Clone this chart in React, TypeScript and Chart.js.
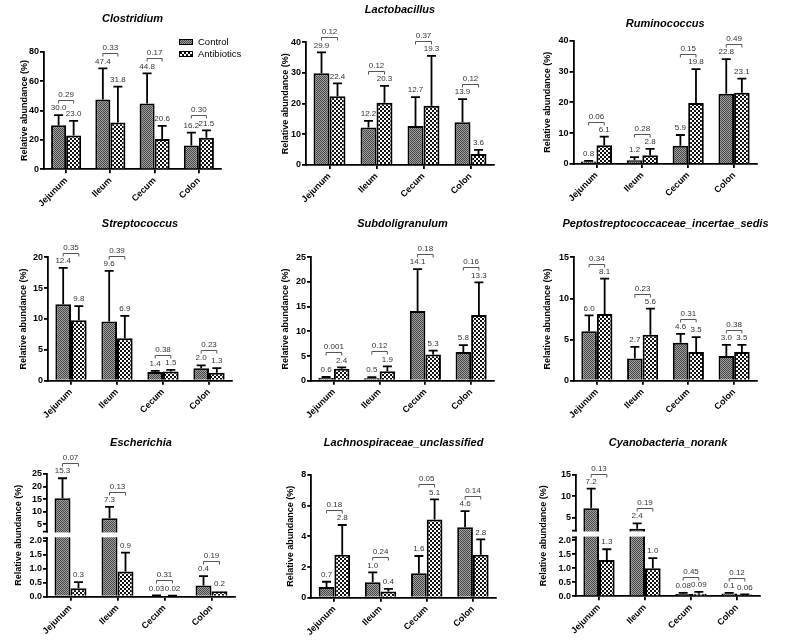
import React, { useEffect, useRef } from 'react';
import { Chart, LinearScale, registerables } from 'chart.js';

Chart.register(...registerables);

const FONT = '"Liberation Sans", Arial, Helvetica, sans-serif';
const SITES = ['Jejunum', 'Ileum', 'Cecum', 'Colon'];
const SERIES = ['Control', 'Antibiotics'];

// Clostridium
const CLOS_CTRL = [30.0, 47.4, 44.8, 16.2];
const CLOS_CTRL_SD = [6.9, 21.3, 20.5, 8.7];
const CLOS_AB = [23.0, 31.8, 20.6, 21.5];
const CLOS_AB_SD = [10.0, 24.4, 8.9, 5.0];
const CLOS_P = ['0.29', '0.33', '0.17', '0.30'];

// Lactobacillus
const LACT_CTRL = [29.9, 12.2, 12.7, 13.9];
const LACT_CTRL_SD = [6.8, 2.2, 9.4, 7.6];
const LACT_AB = [22.4, 20.3, 19.3, 3.6];
const LACT_AB_SD = [4.2, 5.5, 16.3, 1.3];
const LACT_P = ['0.12', '0.12', '0.37', '0.12'];

// Ruminococcus
const RUMI_CTRL = [0.8, 1.2, 5.9, 22.8];
const RUMI_CTRL_SD = [0.2, 1.0, 3.5, 11.2];
const RUMI_AB = [6.1, 2.8, 19.8, 23.1];
const RUMI_AB_SD = [2.8, 2.1, 11.0, 4.6];
const RUMI_P = ['0.06', '0.28', '0.15', '0.49'];

// Streptococcus
const STRE_CTRL = [12.4, 9.6, 1.4, 2.0];
const STRE_CTRL_SD = [5.9, 8.2, 0.2, 0.5];
const STRE_AB = [9.8, 6.9, 1.5, 1.3];
const STRE_AB_SD = [2.3, 3.6, 0.25, 0.75];
const STRE_P = ['0.35', '0.39', '0.38', '0.23'];

// Subdoligranulum
const SUBD_CTRL = [0.6, 0.5, 14.1, 5.8];
const SUBD_CTRL_SD = [0.15, 0.2, 8.5, 1.4];
const SUBD_AB = [2.4, 1.9, 5.3, 13.3];
const SUBD_AB_SD = [0.3, 1.0, 0.8, 6.6];
const SUBD_P = ['0.001', '0.12', '0.18', '0.16'];

// Peptostreptococcaceae_incertae_sedis
const PEPT_CTRL = [6.0, 2.7, 4.6, 3.0];
const PEPT_CTRL_SD = [1.95, 1.4, 1.1, 1.35];
const PEPT_AB = [8.1, 5.6, 3.5, 3.5];
const PEPT_AB_SD = [4.3, 3.15, 1.8, 0.85];
const PEPT_P = ['0.34', '0.23', '0.31', '0.38'];

// Escherichia
const ESCH_CTRL = [15.3, 7.3, 0.03, 0.4];
const ESCH_CTRL_SD = [8.0, 4.6, 0.02, 0.34];
const ESCH_AB = [0.3, 0.9, 0.02, 0.2];
const ESCH_AB_SD = [0.22, 0.68, 0.02, 0.0];
const ESCH_P = ['0.07', '0.13', '0.31', '0.19'];
const ESCH_TICKS = [0, 0.5, 1, 1.5, 2, 5, 10, 15, 20, 25];

// Lachnospiraceae_unclassified
const LACH_CTRL = [0.7, 1.0, 1.6, 4.6];
const LACH_CTRL_SD = [0.34, 0.65, 1.12, 1.05];
const LACH_AB = [2.8, 0.4, 5.1, 2.8];
const LACH_AB_SD = [1.94, 0.17, 1.31, 1.0];
const LACH_P = ['0.18', '0.24', '0.05', '0.14'];

// Cyanobacteria_norank
const CYAN_CTRL = [7.2, 2.4, 0.08, 0.1];
const CYAN_CTRL_SD = [4.6, 1.3, 0.04, 0.02];
const CYAN_AB = [1.3, 1.0, 0.09, 0.06];
const CYAN_AB_SD = [0.38, 0.36, 0.07, 0.01];
const CYAN_P = ['0.13', '0.19', '0.45', '0.12'];
const CYAN_TICKS = [0, 0.5, 1, 1.5, 2, 5, 10, 15];

type Brk = { low: number; high: number; lowFrac: number; upStart: number };

function makeBrokenScale(id: string, brk: Brk, tickValues: number[]) {
  const Base: any = LinearScale;
  class BrokenScale extends Base {
    static id = id;
    static defaults = {};
    buildTicks() {
      return tickValues.map((v) => ({ value: v }));
    }
    getPixelForValue(v: number) {
      const self: any = this;
      const H = self.bottom - self.top;
      if (v <= brk.low) return self.bottom - (v / brk.low) * brk.lowFrac * H;
      return self.bottom - (brk.upStart + ((v - brk.high) / (self.max - brk.high)) * (1 - brk.upStart)) * H;
    }
    getValueForPixel(px: number) {
      const self: any = this;
      const H = self.bottom - self.top;
      const f = (self.bottom - px) / H;
      if (f <= brk.lowFrac) return (f / brk.lowFrac) * brk.low;
      return brk.high + ((f - brk.upStart) / (1 - brk.upStart)) * (self.max - brk.high);
    }
  }
  return BrokenScale;
}

const ESCH_BRK: Brk = { low: 2.1, high: 2, lowFrac: 0.477, upStart: 0.531 };
const CYAN_BRK: Brk = { low: 2.1, high: 2, lowFrac: 0.485, upStart: 0.542 };
Chart.register(
  makeBrokenScale('brokenEsch', ESCH_BRK, ESCH_TICKS) as any,
  makeBrokenScale('brokenCyan', CYAN_BRK, CYAN_TICKS) as any
);

type Panel = {
  title: string;
  ctrl: number[];
  ctrlSd: number[];
  ab: number[];
  abSd: number[];
  p: string[];
  yMax: number;
  yStep?: number;
  brk?: Brk;
  scaleType?: string;
  cell: [number, number, number, number];
  area: { left: number; top: number; right: number; bottom: number };
  titleY: number;
  yTitleX: number;
  legend?: boolean;
};

const PANELS: Panel[] = [
  {
    title: 'Clostridium', ctrl: CLOS_CTRL, ctrlSd: CLOS_CTRL_SD, ab: CLOS_AB, abSd: CLOS_AB_SD, p: CLOS_P,
    yMax: 80, yStep: 20, cell: [0, 0, 262, 210], area: { left: 44, top: 51.7, right: 221, bottom: 169.3 },
    titleY: 19, yTitleX: 25, legend: true,
  },
  {
    title: 'Lactobacillus', ctrl: LACT_CTRL, ctrlSd: LACT_CTRL_SD, ab: LACT_AB, abSd: LACT_AB_SD, p: LACT_P,
    yMax: 40, yStep: 10, cell: [262, 0, 262, 210], area: { left: 306, top: 42.3, right: 494, bottom: 165 },
    titleY: 9.5, yTitleX: 286,
  },
  {
    title: 'Ruminococcus', ctrl: RUMI_CTRL, ctrlSd: RUMI_CTRL_SD, ab: RUMI_AB, abSd: RUMI_AB_SD, p: RUMI_P,
    yMax: 40, yStep: 10, cell: [524, 0, 262, 210], area: { left: 573.5, top: 40.7, right: 757, bottom: 164 },
    titleY: 24, yTitleX: 548,
  },
  {
    title: 'Streptococcus', ctrl: STRE_CTRL, ctrlSd: STRE_CTRL_SD, ab: STRE_AB, abSd: STRE_AB_SD, p: STRE_P,
    yMax: 20, yStep: 5, cell: [0, 210, 262, 210], area: { left: 48, top: 257.3, right: 232, bottom: 380.7 },
    titleY: 224.3, yTitleX: 24,
  },
  {
    title: 'Subdoligranulum', ctrl: SUBD_CTRL, ctrlSd: SUBD_CTRL_SD, ab: SUBD_AB, abSd: SUBD_AB_SD, p: SUBD_P,
    yMax: 25, yStep: 5, cell: [262, 210, 262, 210], area: { left: 311, top: 257.3, right: 494, bottom: 380.7 },
    titleY: 224.3, yTitleX: 286,
  },
  {
    title: 'Peptostreptococcaceae_incertae_sedis', ctrl: PEPT_CTRL, ctrlSd: PEPT_CTRL_SD, ab: PEPT_AB, abSd: PEPT_AB_SD, p: PEPT_P,
    yMax: 15, yStep: 5, cell: [524, 210, 262, 210], area: { left: 574, top: 257.3, right: 757, bottom: 380.7 },
    titleY: 224.3, yTitleX: 548,
  },
  {
    title: 'Escherichia', ctrl: ESCH_CTRL, ctrlSd: ESCH_CTRL_SD, ab: ESCH_AB, abSd: ESCH_AB_SD, p: ESCH_P,
    yMax: 25, brk: ESCH_BRK, scaleType: 'brokenEsch', cell: [0, 420, 262, 221],
    area: { left: 47, top: 474, right: 235, bottom: 596.7 }, titleY: 442.7, yTitleX: 18.5,
  },
  {
    title: 'Lachnospiraceae_unclassified', ctrl: LACH_CTRL, ctrlSd: LACH_CTRL_SD, ab: LACH_AB, abSd: LACH_AB_SD, p: LACH_P,
    yMax: 8, yStep: 2, cell: [262, 420, 262, 221], area: { left: 311.3, top: 475, right: 496, bottom: 597.7 },
    titleY: 442.7, yTitleX: 290.3,
  },
  {
    title: 'Cyanobacteria_norank', ctrl: CYAN_CTRL, ctrlSd: CYAN_CTRL_SD, ab: CYAN_AB, abSd: CYAN_AB_SD, p: CYAN_P,
    yMax: 15, brk: CYAN_BRK, scaleType: 'brokenCyan', cell: [524, 420, 262, 221],
    area: { left: 576, top: 475, right: 760, bottom: 596.3 }, titleY: 442.7, yTitleX: 544,
  },
];

function makePattern(ctx: CanvasRenderingContext2D, kind: 'ctrl' | 'ab') {
  const c = document.createElement('canvas');
  const g = c.getContext('2d')!;
  if (kind === 'ctrl') {
    c.width = 2;
    c.height = 2;
    g.fillStyle = '#a0a0a0';
    g.fillRect(0, 0, 2, 2);
    g.fillStyle = '#474747';
    g.fillRect(0, 0, 1, 1);
    g.fillRect(1, 1, 1, 1);
  } else {
    c.width = 4;
    c.height = 4;
    g.fillStyle = '#ffffff';
    g.fillRect(0, 0, 4, 4);
    g.fillStyle = '#111111';
    g.fillRect(0, 0, 2, 2);
    g.fillRect(2, 2, 2, 2);
  }
  return ctx.createPattern(c, 'repeat') as CanvasPattern;
}

const fmt = (v: number) => (v < 0.1 ? v.toFixed(2) : v.toFixed(1));

function annotate(p: Panel, pats: CanvasPattern[]) {
  return {
    id: 'annot',
    afterDatasetsDraw(chart: any) {
      const ctx: CanvasRenderingContext2D = chart.ctx;
      const ys = chart.scales.y;
      const area = chart.chartArea;
      const [cx, cy] = p.cell;
      ctx.save();

      if (p.brk) {
        const H = ys.bottom - ys.top;
        const lowTop = ys.bottom - p.brk.lowFrac * H;
        const upBot = ys.bottom - p.brk.upStart * H;
        ctx.fillStyle = '#ffffff';
        ctx.fillRect(area.left - 2, upBot + 0.9, area.right - area.left + 4, lowTop - upBot - 1.8);
        ctx.strokeStyle = '#000';
        ctx.lineWidth = 1.8;
        ctx.beginPath();
        ctx.moveTo(area.left - 4, upBot);
        ctx.lineTo(area.left + 0.9, upBot);
        ctx.moveTo(area.left - 4, lowTop);
        ctx.lineTo(area.left + 0.9, lowTop);
        ctx.stroke();
      }

      const series = [
        { v: p.ctrl, sd: p.ctrlSd },
        { v: p.ab, sd: p.abSd },
      ];
      const labelY: number[][] = [[], []];
      const xs: number[][] = [[], []];
      ctx.textAlign = 'center';
      ctx.textBaseline = 'middle';
      series.forEach((s, d) => {
        const meta = chart.getDatasetMeta(d);
        meta.data.forEach((el: any, i: number) => {
          const x = el.x;
          const top = el.y;
          const cap = ys.getPixelForValue(s.v[i] + s.sd[i]);
          if (s.sd[i] > 0) {
            ctx.strokeStyle = '#000';
            ctx.lineWidth = 1.8;
            ctx.beginPath();
            ctx.moveTo(x, top);
            ctx.lineTo(x, cap);
            ctx.moveTo(x - 4.5, cap);
            ctx.lineTo(x + 4.5, cap);
            ctx.stroke();
          }
          const ly = Math.min(cap, top) - 7;
          labelY[d][i] = ly;
          xs[d][i] = x;
          ctx.fillStyle = '#333';
          ctx.font = `8px ${FONT}`;
          ctx.fillText(fmt(s.v[i]), x, ly);
        });
      });

      // significance brackets
      p.p.forEach((pv, i) => {
        const x1 = xs[0][i];
        const x2 = xs[1][i];
        const yb = Math.round(Math.min(labelY[0][i], labelY[1][i]) - 8) + 0.5;
        ctx.strokeStyle = '#555';
        ctx.lineWidth = 1;
        ctx.beginPath();
        ctx.moveTo(x1, yb + 3);
        ctx.lineTo(x1, yb);
        ctx.lineTo(x2, yb);
        ctx.lineTo(x2, yb + 3);
        ctx.stroke();
        ctx.fillStyle = '#333';
        ctx.font = `8px ${FONT}`;
        ctx.fillText(pv, (x1 + x2) / 2, yb - 5.5);
      });

      // title
      ctx.fillStyle = '#000';
      ctx.font = `italic bold 11px ${FONT}`;
      ctx.fillText(p.title, (area.left + area.right) / 2, p.titleY - cy);

      // y-axis title
      ctx.save();
      ctx.translate(p.yTitleX - cx, (area.top + area.bottom) / 2);
      ctx.rotate(-Math.PI / 2);
      ctx.font = `bold 9px ${FONT}`;
      ctx.fillText('Relative abundance (%)', 0, 0);
      ctx.restore();

      // legend
      if (p.legend) {
        ctx.textAlign = 'left';
        ctx.font = `9.5px ${FONT}`;
        SERIES.forEach((name, k) => {
          const sy = 39 + k * 12 - cy;
          ctx.fillStyle = pats[k];
          ctx.fillRect(179 - cx, sy, 14, 6);
          ctx.strokeStyle = '#000';
          ctx.lineWidth = 1;
          ctx.strokeRect(179.5 - cx, sy + 0.5, 13, 5);
          ctx.fillStyle = '#000';
          ctx.fillText(name, 198 - cx, sy + 3.5);
        });
      }
      ctx.restore();
    },
  };
}

function buildConfig(p: Panel, ctx: CanvasRenderingContext2D): any {
  const [cx, cy, cw, ch] = p.cell;
  const a = p.area;
  const yW = a.left - cx;
  const xH = cy + ch - a.bottom;
  const pats = [makePattern(ctx, 'ctrl'), makePattern(ctx, 'ab')];
  const tickFont = { family: FONT, size: 9, weight: 'bold' as const };

  const yTicks: any = { autoSkip: false, padding: 1, color: '#000', font: tickFont };
  if (p.yStep) yTicks.stepSize = p.yStep;
  if (p.brk) yTicks.callback = (v: number) => (v <= 2 ? Number(v).toFixed(1) : String(v));

  return {
    type: 'bar',
    data: {
      labels: SITES,
      datasets: [
        { label: SERIES[0], data: p.ctrl, backgroundColor: pats[0], borderColor: '#000', borderWidth: 2 },
        { label: SERIES[1], data: p.ab, backgroundColor: pats[1], borderColor: '#000', borderWidth: 2 },
      ],
    },
    options: {
      responsive: false,
      animation: false,
      devicePixelRatio: 1,
      events: [],
      layout: { padding: { left: 0, top: a.top - cy, right: cx + cw - a.right, bottom: 0 } },
      datasets: { bar: { categoryPercentage: 0.68, barPercentage: 1 } },
      plugins: { legend: { display: false }, tooltip: { enabled: false }, title: { display: false } },
      scales: {
        x: {
          type: 'category',
          offset: true,
          border: { display: true, color: '#000', width: 1.8 },
          grid: { display: true, drawOnChartArea: false, offset: false, drawTicks: true, tickLength: 4, color: '#000', lineWidth: 1.8 },
          ticks: { minRotation: 45, maxRotation: 45, autoSkip: false, padding: 2, color: '#000', font: tickFont },
          afterFit: (s: any) => {
            s.height = xH;
          },
        },
        y: {
          type: p.scaleType || 'linear',
          min: 0,
          max: p.yMax,
          border: { display: true, color: '#000', width: 1.8 },
          grid: { display: true, drawOnChartArea: false, drawTicks: true, tickLength: 4, color: '#000', lineWidth: 1.8 },
          ticks: yTicks,
          afterFit: (s: any) => {
            s.width = yW;
          },
        },
      },
    },
    plugins: [annotate(p, pats)],
  };
}

function PanelChart({ panel }: { panel: Panel }) {
  const ref = useRef<HTMLCanvasElement>(null);
  useEffect(() => {
    const canvas = ref.current;
    if (!canvas) return;
    const ctx = canvas.getContext('2d')!;
    const chart = new Chart(ctx, buildConfig(panel, ctx));
    return () => chart.destroy();
  }, [panel]);
  const [x, y, w, h] = panel.cell;
  return (
    <canvas
      ref={ref}
      width={w}
      height={h}
      style={{ position: 'absolute', left: x, top: y, width: w, height: h }}
    />
  );
}

export default function App() {
  return (
    <div style={{ position: 'absolute', left: 0, top: 0, width: 786, height: 641, background: '#fff', overflow: 'hidden' }}>
      {PANELS.map((p) => (
        <PanelChart key={p.title} panel={p} />
      ))}
    </div>
  );
}
